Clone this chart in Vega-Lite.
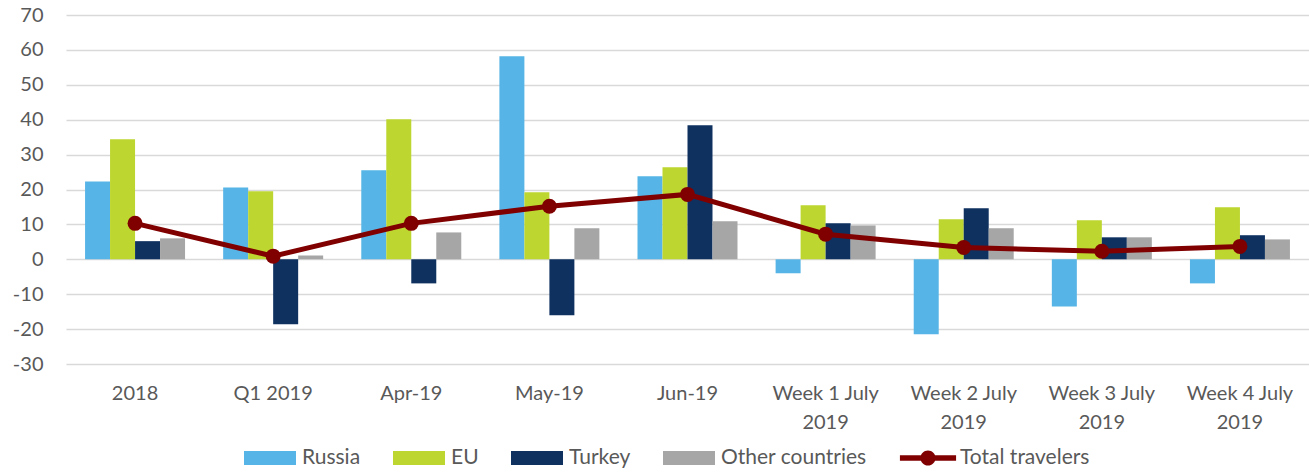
{
  "$schema": "https://vega.github.io/schema/vega-lite/v6.json",
  "width": 1243,
  "height": 349,
  "autosize": {"type": "none"},
  "padding": {"left": 66, "top": 15, "right": 0, "bottom": 108},
  "config": {
    "view": {"stroke": null},
    "font": "Lato",
    "background": "#ffffff"
  },
  "title": {
    "text": "Source: MIA",
    "orient": "bottom",
    "anchor": "start",
    "frame": "bounds",
    "offset": 30,
    "dx": -10,
    "fontSize": 20,
    "fontWeight": "normal",
    "color": "#595959",
    "font": "Lato"
  },
  "data": {
    "values": [
      {"cat": "2018", "series": "Russia", "value": 22.3},
      {"cat": "2018", "series": "EU", "value": 34.4},
      {"cat": "2018", "series": "Turkey", "value": 5.2},
      {"cat": "2018", "series": "Other countries", "value": 6.0},
      {"cat": "2018", "series": "Total travelers", "value": 10.3},
      {"cat": "Q1 2019", "series": "Russia", "value": 20.6},
      {"cat": "Q1 2019", "series": "EU", "value": 19.5},
      {"cat": "Q1 2019", "series": "Turkey", "value": -18.6},
      {"cat": "Q1 2019", "series": "Other countries", "value": 1.1},
      {"cat": "Q1 2019", "series": "Total travelers", "value": 0.9},
      {"cat": "Apr-19", "series": "Russia", "value": 25.5},
      {"cat": "Apr-19", "series": "EU", "value": 40.1},
      {"cat": "Apr-19", "series": "Turkey", "value": -6.9},
      {"cat": "Apr-19", "series": "Other countries", "value": 7.7},
      {"cat": "Apr-19", "series": "Total travelers", "value": 10.3},
      {"cat": "May-19", "series": "Russia", "value": 58.2},
      {"cat": "May-19", "series": "EU", "value": 19.2},
      {"cat": "May-19", "series": "Turkey", "value": -16.0},
      {"cat": "May-19", "series": "Other countries", "value": 8.9},
      {"cat": "May-19", "series": "Total travelers", "value": 15.2},
      {"cat": "Jun-19", "series": "Russia", "value": 23.8},
      {"cat": "Jun-19", "series": "EU", "value": 26.4},
      {"cat": "Jun-19", "series": "Turkey", "value": 38.4},
      {"cat": "Jun-19", "series": "Other countries", "value": 10.9},
      {"cat": "Jun-19", "series": "Total travelers", "value": 18.6},
      {"cat": "Week 1 July|2019", "series": "Russia", "value": -4.0},
      {"cat": "Week 1 July|2019", "series": "EU", "value": 15.5},
      {"cat": "Week 1 July|2019", "series": "Turkey", "value": 10.3},
      {"cat": "Week 1 July|2019", "series": "Other countries", "value": 9.7},
      {"cat": "Week 1 July|2019", "series": "Total travelers", "value": 7.2},
      {"cat": "Week 2 July|2019", "series": "Russia", "value": -21.5},
      {"cat": "Week 2 July|2019", "series": "EU", "value": 11.5},
      {"cat": "Week 2 July|2019", "series": "Turkey", "value": 14.6},
      {"cat": "Week 2 July|2019", "series": "Other countries", "value": 8.9},
      {"cat": "Week 2 July|2019", "series": "Total travelers", "value": 3.4},
      {"cat": "Week 3 July|2019", "series": "Russia", "value": -13.5},
      {"cat": "Week 3 July|2019", "series": "EU", "value": 11.2},
      {"cat": "Week 3 July|2019", "series": "Turkey", "value": 6.3},
      {"cat": "Week 3 July|2019", "series": "Other countries", "value": 6.3},
      {"cat": "Week 3 July|2019", "series": "Total travelers", "value": 2.3},
      {"cat": "Week 4 July|2019", "series": "Russia", "value": -6.9},
      {"cat": "Week 4 July|2019", "series": "EU", "value": 14.9},
      {"cat": "Week 4 July|2019", "series": "Turkey", "value": 6.9},
      {"cat": "Week 4 July|2019", "series": "Other countries", "value": 5.7},
      {"cat": "Week 4 July|2019", "series": "Total travelers", "value": 3.7}
    ]
  },
  "encoding": {
    "x": {
      "field": "cat",
      "type": "nominal",
      "sort": ["2018", "Q1 2019", "Apr-19", "May-19", "Jun-19", "Week 1 July|2019", "Week 2 July|2019", "Week 3 July|2019", "Week 4 July|2019"],
      "scale": {"paddingInner": 0.276, "paddingOuter": 0.138},
      "axis": {
        "title": null,
        "domain": false,
        "ticks": false,
        "grid": false,
        "labelAngle": 0,
        "labelFontSize": 20,
        "labelColor": "#595959",
        "labelPadding": 19,
        "labelBaseline": "top",
        "labelLineHeight": 29,
        "labelLimit": 0,
        "labelExpr": "split(datum.label, '|')"
      }
    },
    "y": {
      "field": "value",
      "type": "quantitative",
      "scale": {"domain": [-30, 70], "nice": false},
      "axis": {
        "title": null,
        "domain": false,
        "ticks": false,
        "values": [-30, -20, -10, 0, 10, 20, 30, 40, 50, 60, 70],
        "labelExpr": "datum.value + ''",
        "labelFontSize": 20,
        "labelColor": "#595959",
        "labelPadding": 23,
        "gridColor": "#D9D9D9",
        "gridWidth": 1.5
      }
    },
    "color": {
      "field": "series",
      "type": "nominal",
      "scale": {
        "domain": ["Russia", "EU", "Turkey", "Other countries", "Total travelers"],
        "range": ["#56B4E6", "#BED630", "#0E3160", "#A6A6A6", "#800000"]
      },
      "legend": {
        "title": null,
        "orient": "none",
        "legendX": 178,
        "legendY": 417,
        "direction": "horizontal",
        "symbolSize": 2704,
        "labelFontSize": 21,
        "labelColor": "#595959",
        "labelOffset": 6,
        "columnPadding": 32,
        "encode": {
          "symbols": {
            "update": {
              "shape": {"signal": "datum.value === 'Total travelers' ? 'M-1.08,-0.11H1.08V0.11H-1.08Z M0.29,0A0.29,0.29 0 1 1 -0.29,0A0.29,0.29 0 1 1 0.29,0Z' : 'M-1,-0.27H1V0.27H-1Z'"},
              "fill": {"signal": "scale('color', datum.value)"},
              "stroke": {"value": null},
              "strokeWidth": {"value": 0},
              "opacity": {"value": 1},
              "fillOpacity": {"value": 1}
            }
          }
        }
      }
    }
  },
  "layer": [
    {
      "transform": [{"filter": "datum.series !== 'Total travelers'"}],
      "mark": {"type": "bar"},
      "encoding": {
        "xOffset": {
          "field": "series",
          "type": "nominal",
          "sort": ["Russia", "EU", "Turkey", "Other countries"],
          "scale": {"paddingInner": 0, "paddingOuter": 0}
        }
      }
    },
    {
      "transform": [{"filter": "datum.series === 'Total travelers'"}],
      "mark": {"type": "line", "strokeWidth": 5},
      "encoding": {}
    },
    {
      "transform": [{"filter": "datum.series === 'Total travelers'"}],
      "mark": {"type": "circle", "size": 225, "opacity": 1},
      "encoding": {}
    }
  ]
}
